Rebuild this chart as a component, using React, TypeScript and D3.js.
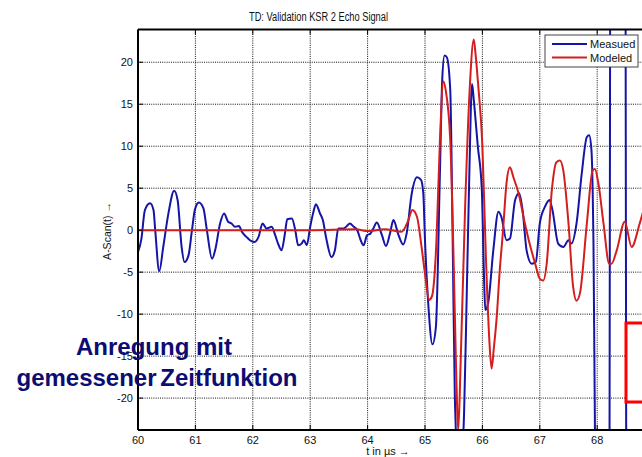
import * as d3 from "d3";
import { useEffect, useRef } from "react";

const measuredT = [
  60.0, 60.06, 60.12, 60.21, 60.27, 60.3, 60.37, 60.44, 60.53, 60.63, 60.69, 60.76, 60.81, 60.88,
  60.94, 60.99, 61.06, 61.14, 61.2, 61.29, 61.35, 61.43, 61.5, 61.57, 61.63, 61.69, 61.76, 61.81,
  61.89, 61.95, 62.03, 62.1, 62.17, 62.24, 62.33, 62.39, 62.44, 62.5, 62.56, 62.6, 62.68, 62.74,
  62.79, 62.85, 62.89, 62.94, 63.0, 63.05, 63.1, 63.17, 63.22, 63.28, 63.37, 63.43, 63.49, 63.58,
  63.64, 63.69, 63.76, 63.82, 63.88, 63.93, 63.99, 64.05, 64.1, 64.16, 64.25, 64.32, 64.39, 64.45,
  64.53, 64.62, 64.68, 64.77, 64.86, 64.93, 64.97, 65.0, 65.06, 65.13, 65.19, 65.26, 65.3, 65.34,
  65.38, 65.44, 65.48, 65.52, 65.6, 65.68, 65.72, 65.77, 65.82, 65.85, 65.92, 65.99, 66.03, 66.05,
  66.1, 66.19, 66.28, 66.33, 66.42, 66.48, 66.57, 66.64, 66.7, 66.77, 66.86, 66.93, 67.0, 67.09,
  67.17, 67.22, 67.32, 67.41, 67.5, 67.55, 67.64, 67.73, 67.82, 67.86, 67.9, 67.93, 67.98, 68.0,
  68.2, 68.22, 68.24, 68.48, 68.5, 68.52, 69.0,
];
const measuredV = [
  -2.6, -1.0, 2.4, 3.2, 2.4, 0, -4.9, -2.0, 2.0, 4.7, 3.6, -2.0, -3.8, -3.0,
  0, 2.4, 3.3, 2.6, 0, -3.4, -2.2, 0.8, 2.0, 1.0, 0.8, 0.4, 0.5, -0.2,
  -0.8, -1.2, -1.4, -0.8, 0.8, 0.2, 0.4, -0.6, -1.6, -2.4, -0.4, 1.3, 1.4, 0,
  -1.8, -1.6, -1.2, -1.8, 0.4, 2.0, 3.1, 2.0, 1.2, -1.0, -3.2, -2.4, 0.2, 0.2,
  0.5, 0.8, 0.4, 0, -1.2, -1.8, -0.6, -0.4, 0.2, 0.9, -0.6, -1.9, -0.4, 1.2,
  -0.4, -1.7, -0.4, 4.4, 6.3, 6.0, 4.4, -1.2, -9.1, -13.6, -11.5, 6.8, 17.9, 20.8,
  20.6, 16.7, 0, -20, -30, -22, -10, 6, 17.4, 15.5, 10, 4.8, -6, -9.5,
  -8.7, -2.4, 2.2, 1.6, -1.2, -1.0, 3.6, 4.4, 2.4, -2.4, -4.0, -3.8, 0.8, 2.8,
  3.6, 2.4, -1.6, -2.0, -1.2, -1.6, 0.8, 6.7, 11.1, 11.3, 9.5, 0.8, -40, -80,
  -80, 0, 80, 80, 0, -80, -80,
];

// modeled echo (red)
const modeledT = [
  60.0, 62.0, 63.0, 63.8, 64.0, 64.3, 64.59, 64.7, 64.78, 64.86, 64.94, 65.0, 65.07, 65.12, 65.2,
  65.26, 65.32, 65.36, 65.44, 65.5, 65.54, 65.58, 65.62, 65.7, 65.78, 65.85, 65.88, 65.93, 66.0,
  66.06, 66.12, 66.16, 66.2, 66.25, 66.3, 66.36, 66.42, 66.48, 66.54, 66.63, 66.74, 66.83, 66.92,
  67.0, 67.06, 67.12, 67.21, 67.29, 67.35, 67.41, 67.5, 67.58, 67.64, 67.7, 67.82, 67.92, 67.96,
  68.02, 68.11, 68.21, 68.25, 68.34, 68.48, 68.6, 68.74, 68.8,
];
const modeledV = [
  0, 0, 0, 0.1, -0.1, 0.1, -0.2, 1.0, 2.4, 1.6, -2.0, -5.2, -8.3, -7.9, -1.2,
  10.7, 17.7, 16.7, 10.7, -4, -16, -23.8, -16, 3, 17, 22.7, 21, 17, 10,
  -3, -13, -16.5, -14, -10.3, -5, 0, 5.6, 7.5, 6.3, 4.4, 0.8, -1.8, -4.0,
  -5.8, -6.0, -4.0, 4.8, 8.1, 8.3, 7.1, 0.8, -6.7, -8.4, -7.5, 0.8, 7.1, 7.3,
  5.6, 0.8, -4.0, -4.0, -2.4, 1.0, -2.0, 0.8, 2.2,
];

const xTicks = [60, 61, 62, 63, 64, 65, 66, 67, 68];
const yTicks = [-20, -15, -10, -5, 0, 5, 10, 15, 20];
const seriesNames = ["Measued", "Modeled"];
const colors = ["#1414a6", "#d41e1e"];

export default function App() {
  const svgRef = useRef<SVGSVGElement>(null);
  const W = 642;
  const H = 457;

  useEffect(() => {
    const svg = d3.select(svgRef.current);
    svg.selectAll("*").remove();

    const x = d3.scaleLinear().domain([60, 70]).range([138, 712]);
    const y = d3.scaleLinear().domain([-23.8, 23.9]).range([430, 29.5]);
    const [x0, x1] = x.range();
    const [yb, yt] = y.range();

    svg.append("rect").attr("width", W).attr("height", H).attr("fill", "#fff");

    svg.append("defs").append("clipPath").attr("id", "plot")
      .append("rect").attr("x", x0).attr("y", yt).attr("width", x1 - x0).attr("height", yb - yt);

    // dotted grid
    const grid = svg.append("g").attr("stroke", "#111").attr("stroke-width", 1).attr("stroke-dasharray", "1 1.2");
    grid.selectAll(".gx").data(xTicks.slice(1)).enter().append("line")
      .attr("x1", d => x(d)).attr("x2", d => x(d)).attr("y1", yt).attr("y2", yb);
    grid.selectAll(".gy").data(yTicks).enter().append("line")
      .attr("x1", x0).attr("x2", x1).attr("y1", d => y(d)).attr("y2", d => y(d));

    const plot = svg.append("g").attr("clip-path", "url(#plot)");
    const series = [
      { t: measuredT, v: measuredV },
      { t: modeledT, v: modeledV },
    ];
    const path = d3.line<[number, number]>()
      .x(d => x(d[0]))
      .y(d => y(d[1]))
      .curve(d3.curveMonotoneX);
    series.forEach((s, k) => {
      const pts = s.t.map((t, i) => [t, s.v[i]] as [number, number]);
      plot.append("path")
        .attr("d", path(pts))
        .attr("fill", "none")
        .attr("stroke", colors[k])
        .attr("stroke-width", 2)
        .attr("stroke-linejoin", "round");
    });

    // frame and inward ticks
    const frame = svg.append("g").attr("stroke", "#000");
    frame.append("line").attr("x1", x0).attr("x2", x1).attr("y1", yt).attr("y2", yt).attr("stroke-width", 2);
    frame.append("line").attr("x1", x0).attr("x2", x1).attr("y1", yb).attr("y2", yb).attr("stroke-width", 2);
    frame.append("line").attr("x1", x0).attr("x2", x0).attr("y1", yt).attr("y2", yb).attr("stroke-width", 2);
    xTicks.forEach(d => {
      frame.append("line").attr("x1", x(d)).attr("x2", x(d)).attr("y1", yb).attr("y2", yb - 5).attr("stroke-width", 1);
      frame.append("line").attr("x1", x(d)).attr("x2", x(d)).attr("y1", yt).attr("y2", yt + 5).attr("stroke-width", 1);
    });
    yTicks.forEach(d => {
      frame.append("line").attr("x1", x0).attr("x2", x0 + 5).attr("y1", y(d)).attr("y2", y(d)).attr("stroke-width", 1);
    });

    const font = "Liberation Sans, Arial, sans-serif";
    const labels = svg.append("g").attr("font-family", font).attr("font-size", 11).attr("fill", "#111");
    labels.selectAll(".xl").data(xTicks).enter().append("text")
      .attr("x", d => x(d)).attr("y", 444).attr("text-anchor", "middle").text(d => d);
    labels.selectAll(".yl").data(yTicks).enter().append("text")
      .attr("x", 133).attr("y", d => y(d) + 4).attr("text-anchor", "end").text(d => d);

    svg.append("text").attr("x", 249).attr("y", 21)
      .attr("font-family", font).attr("font-size", 12).attr("fill", "#111")
      .attr("textLength", 139).attr("lengthAdjust", "spacingAndGlyphs")
      .text("TD: Validation KSR 2 Echo Signal");
    svg.append("text").attr("x", 388).attr("y", 455).attr("text-anchor", "middle")
      .attr("font-family", font).attr("font-size", 11).attr("fill", "#111")
      .text("t in µs →");
    svg.append("text").attr("transform", "translate(111,231) rotate(-90)").attr("text-anchor", "middle")
      .attr("font-family", font).attr("font-size", 10.5).attr("fill", "#111")
      .text("A-Scan(t) →");

    // legend
    const legend = svg.append("g").attr("transform", "translate(545,35)");
    legend.append("rect").attr("width", 93).attr("height", 32).attr("fill", "#fff").attr("stroke", "#444").attr("stroke-width", 1);
    seriesNames.forEach((name, i) => {
      legend.append("line").attr("x1", 7).attr("x2", 42).attr("y1", 9 + i * 13.5).attr("y2", 9 + i * 13.5)
        .attr("stroke", colors[i]).attr("stroke-width", 2);
      legend.append("text").attr("x", 45).attr("y", 13 + i * 13.5)
        .attr("font-family", font).attr("font-size", 11).attr("fill", "#111").text(name);
    });

    // red marker box at the right edge
    svg.append("rect").attr("x", 626).attr("y", 323).attr("width", 30).attr("height", 79)
      .attr("fill", "#fff").attr("stroke", "#f00").attr("stroke-width", 3);

    // annotation
    const note = svg.append("text").attr("font-family", font).attr("font-size", 24)
      .attr("font-weight", "bold").attr("fill", "#0c0c72").attr("text-anchor", "middle");
    note.append("tspan").attr("x", 154).attr("y", 355).text("Anregung mit");
    note.append("tspan").attr("x", 157).attr("y", 386).attr("word-spacing", "-3px").text("gemessener Zeitfunktion");
  }, []);

  return (
    <div style={{ position: "absolute", left: 0, top: 0 }}>
      <svg ref={svgRef} width={W} height={H} style={{ display: "block" }}></svg>
    </div>
  );
}
